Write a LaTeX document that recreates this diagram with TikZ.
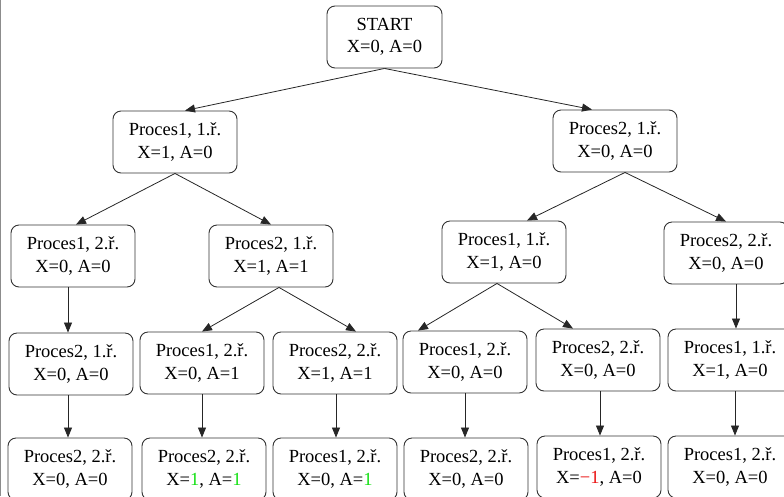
\documentclass[tikz,border=0pt]{standalone}
\usepackage{fontspec}
\setmainfont{Liberation Serif}
\usepackage{xcolor}
\usepackage{tikz}
\usetikzlibrary{calc}
\usetikzlibrary{arrows.meta}

\definecolor{okgreen}{RGB}{20,225,20}
\definecolor{badred}{RGB}{235,20,20}

\begin{document}
\begin{tikzpicture}[x=1pt,y=-1pt]

                \tikzstyle{state} = [draw=black!80, line width=0.9pt, rounded corners=8pt, fill=white,
                                     minimum width=124pt, minimum height=62pt, inner sep=0pt, align=center,
                                     font=\fontsize{18.5}{22.5}\selectfont]
                \tikzstyle{edge}  = [draw=black!85, line width=0.8pt, -{Triangle[length=10pt,width=8pt]}]
                \useasboundingbox (0,0) rectangle (784,496);
                \draw [black!45, line width=1pt] (0.5,0) -- (0.5,496);
                % root and first steps
                \node [state, minimum width=115pt](start) at (384.5,37) {START\\X=0, A=0};
                \node [state](n1) at (175,142) {Proces1, 1.ř.\\X=1, A=0};
                \node [state](n2) at (615,141) {Proces2, 1.ř.\\X=0, A=0};
                % second level
                \node [state](n11) at (73,256) {Proces1, 2.ř.\\X=0, A=0};
                \node [state](n12) at (271,256) {Proces2, 1.ř.\\X=1, A=1};
                \node [state](n21) at (504,252) {Proces1, 1.ř.\\X=1, A=0};
                \node [state](n22) at (726,253) {Proces2, 2.ř.\\X=0, A=0};
                % third level
                \node [state](n111) at (71,364) {Proces2, 1.ř.\\X=0, A=0};
                \node [state](n121) at (202,363) {Proces1, 2.ř.\\X=0, A=1};
                \node [state](n122) at (335,363) {Proces2, 2.ř.\\X=1, A=1};
                \node [state](n211) at (465,362) {Proces1, 2.ř.\\X=0, A=0};
                \node [state](n212) at (598,360) {Proces2, 2.ř.\\X=0, A=0};
                \node [state](n221) at (730,360) {Proces1, 1.ř.\\X=1, A=0};
                % last level
                \node [state](n1111) at (70,469) {Proces2, 2.ř.\\X=0, A=0};
                \node [state](n1211) at (204,469) {Proces2, 2.ř.\\X=\textcolor{okgreen}{1}, A=\textcolor{okgreen}{1}};
                \node [state](n1221) at (335,469) {Proces1, 2.ř.\\X=0, A=\textcolor{okgreen}{1}};
                \node [state](n2111) at (466,469) {Proces2, 2.ř.\\X=0, A=0};
                \node [state](n2121) at (599,467) {Proces1, 2.ř.\\X=\textcolor{badred}{−1}, A=0};
                \node [state](n2211) at (730,467) {Proces1, 2.ř.\\X=0, A=0};
                \draw [edge] (start.south) -- ($(n1.north) + (10,0)$);
                \draw [edge] (start.south) -- ($(n2.north) + (-23,0)$);
                \draw [edge] (n1.south) -- ($(n11.north) + (3,0)$);
                \draw [edge] (n1.south) -- (n12.north);
                \draw [edge] ($(n2.south) + (10,0)$) -- ($(n21.north) + (23,0)$);
                \draw [edge] ($(n2.south) + (10,0)$) -- (n22.north);
                \draw [edge] ($(n12.south) + (8,0)$) -- (n121.north);
                \draw [edge] ($(n12.south) + (8,0)$) -- ($(n122.north) + (21,0)$);
                \draw [edge] ($(n21.south) + (-7,0)$) -- ($(n211.north) + (-47,0)$);
                \draw [edge] ($(n21.south) + (-7,0)$) -- ($(n212.north) + (-25,0)$);
                \draw [edge] ($(n11.south) + (-5,0)$) -- ($(n111.north) + (-3,0)$);
                \draw [edge] ($(n22.south) + (10,0)$) -- ($(n221.north) + (6,0)$);
                \draw [edge] ($(n111.south) + (-3,0)$) -- ($(n1111.north) + (-2,0)$);
                \draw [edge] (n121.south) -- ($(n1211.north) + (-2,0)$);
                \draw [edge] ($(n122.south) + (1,0)$) -- ($(n1221.north) + (1,0)$);
                \draw [edge] (n211.south) -- ($(n2111.north) + (-1,0)$);
                \draw [edge] ($(n212.south) + (2,0)$) -- ($(n2121.north) + (1,0)$);
                \draw [edge] ($(n221.south) + (5,0)$) -- ($(n2211.north) + (5,0)$);
\end{tikzpicture}
\end{document}
